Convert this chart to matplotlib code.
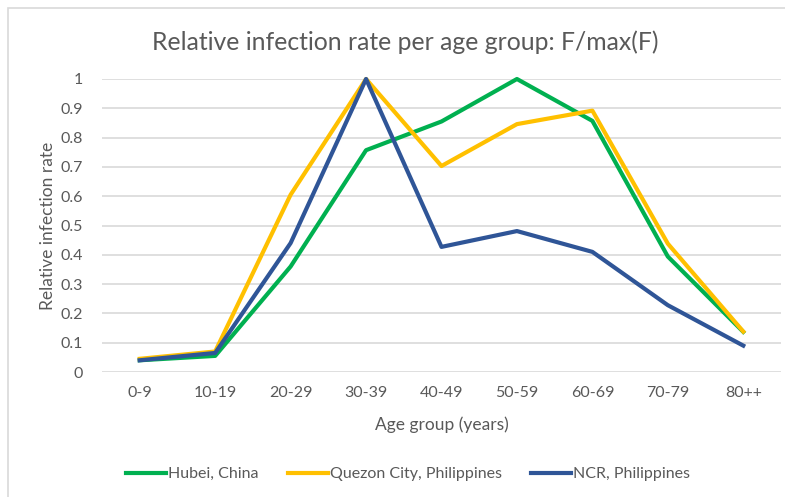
import matplotlib
matplotlib.use("Agg")
import matplotlib.pyplot as plt
from matplotlib.patches import Rectangle

categories = ["0-9", "10-19", "20-29", "30-39", "40-49", "50-59", "60-69", "70-79", "80++"]
hubei = [0.04, 0.055, 0.36, 0.757, 0.855, 1.0, 0.857, 0.394, 0.137]
quezon = [0.045, 0.07, 0.605, 1.0, 0.703, 0.846, 0.892, 0.438, 0.138]
ncr = [0.04, 0.065, 0.44, 1.0, 0.427, 0.481, 0.41, 0.228, 0.09]
yticks = [0, 0.1, 0.2, 0.3, 0.4, 0.5, 0.6, 0.7, 0.8, 0.9, 1]
ytick_labels = ["0", "0.1", "0.2", "0.3", "0.4", "0.5", "0.6", "0.7", "0.8", "0.9", "1"]

plt.rcParams['font.family'] = ['Lato', 'DejaVu Sans']
W, H = 785, 497
fig = plt.figure(figsize=(W/100, H/100), dpi=100)
fig.patch.set_facecolor('white')
fig.patches.append(Rectangle((8/W, -0.1), 1.2, 1.1 - 8/H, transform=fig.transFigure,
                             fill=False, edgecolor='#D9D9D9', linewidth=1.2))

left, right = 102/W, 781/W
bottom, top = 1 - 372/H, 1 - 79/H
ax = fig.add_axes([left, bottom, right-left, top-bottom])
x = list(range(len(categories)))
ax.plot(x, hubei, color='#00B050', lw=3, label='Hubei, China', clip_on=False, zorder=3)
ax.plot(x, quezon, color='#FFC000', lw=3, label='Quezon City, Philippines', clip_on=False, zorder=4)
ax.plot(x, ncr, color='#2F5597', lw=3, label='NCR, Philippines', clip_on=False, zorder=5)

ax.set_xlim(-0.5, len(categories) - 0.5)
ax.set_ylim(0, 1)
ax.set_yticks(yticks)
ax.set_yticklabels(ytick_labels)
ax.set_xticks(x)
ax.set_xticklabels(categories)
ax.grid(axis='y', color='#D9D9D9', lw=1.2)
ax.set_axisbelow(True)
for s in ax.spines.values():
    s.set_visible(False)
ax.tick_params(length=0, labelsize=11.5, labelcolor='#595959', pad=10)
ax.tick_params(axis='y', pad=14)
ax.set_xlabel('Age group (years)', fontsize=12.5, color='#595959', labelpad=12)
ax.set_ylabel('Relative infection rate', fontsize=12.5, color='#595959', labelpad=3)

fig.text(405/W, 1 - 42/H, 'Relative infection rate per age group: F/max(F)',
         ha='center', va='center', fontsize=17.8, color='#595959')

leg = fig.legend(loc='center', bbox_to_anchor=(408/W, 1 - 474/H), ncol=3, frameon=False,
                 fontsize=11.5, handlelength=2.5, handletextpad=0.15,
                 columnspacing=1.8)
for t in leg.get_texts():
    t.set_color('#595959')

fig.savefig('out.png', dpi=100)
